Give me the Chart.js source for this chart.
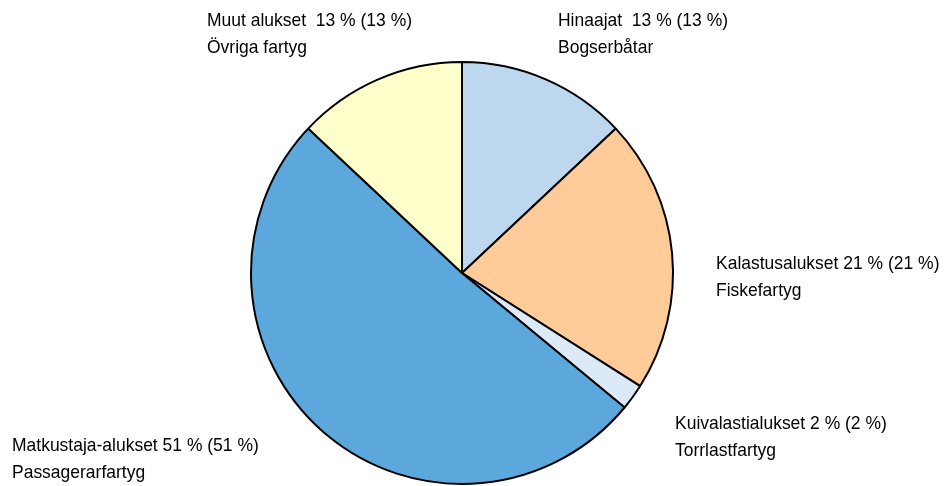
<!DOCTYPE html>
<html>
<head>
<meta charset="utf-8">
<script src="https://cdn.jsdelivr.net/npm/chart.js@4/dist/chart.umd.min.js"></script>
<style>
  html, body { margin: 0; padding: 0; background: #fff; }
  #wrap { width: 944px; height: 486px; }
</style>
</head>
<body>
<div id="wrap"><canvas id="pie" width="944" height="486"></canvas></div>
<script>
// data, clockwise from 12 o'clock
const namesFi = ["Hinaajat ", "Kalastusalukset", "Kuivalastialukset", "Matkustaja-alukset", "Muut alukset "];
const namesSv = ["Bogserbåtar", "Fiskefartyg", "Torrlastfartyg", "Passagerarfartyg", "Övriga fartyg"];
const shares = [13, 21, 2, 51, 13];
const prevShares = [13, 21, 2, 51, 13];

const colors = ["#bdd7ee", "#ffcc99", "#dce9f6", "#5ca8dc", "#ffffcc"];

// label anchor (left x, first baseline y) for each slice
const labelAt = [[558, 26], [716, 269], [675, 429], [12, 451], [207, 26]];

const labelPlugin = {
  id: "sliceLabels",
  afterDraw(c) {
    const ctx = c.ctx;
    ctx.save();
    ctx.fillStyle = "#000";
    ctx.textBaseline = "alphabetic";
    ctx.font = "19px 'Liberation Sans', Arial, sans-serif";
    const sx = 0.92; // narrow face isn't installed, squeeze instead
    namesFi.forEach((n, i) => {
      const [x, y] = labelAt[i];
      ctx.setTransform(sx, 0, 0, 1, x, y);
      ctx.fillText(`${n} ${shares[i]} % (${prevShares[i]} %)`, 0, 0);
      ctx.fillText(namesSv[i], 0, 26.5);
    });
    ctx.restore();
  }
};

new Chart(document.getElementById("pie"), {
  type: "pie",
  data: {
    labels: namesFi,
    datasets: [{
      data: shares,
      backgroundColor: colors,
      borderColor: "#000",
      borderWidth: 2
    }]
  },
  options: {
    responsive: false,
    animation: false,
    radius: 211,
    layout: { padding: { top: 60, bottom: 0, left: 0, right: 20 } },
    plugins: {
      legend: { display: false },
      tooltip: { enabled: false }
    }
  },
  plugins: [labelPlugin]
});
</script>
</body>
</html>
